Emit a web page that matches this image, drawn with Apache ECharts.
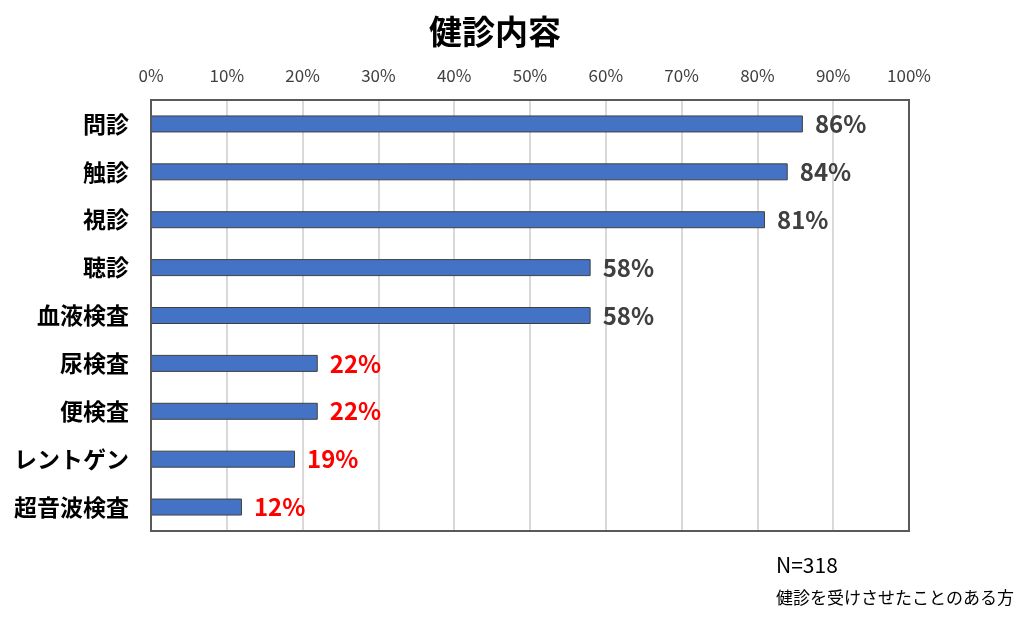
<!DOCTYPE html>
<html><head><meta charset="utf-8">
<script src="https://cdn.jsdelivr.net/npm/echarts@6/dist/echarts.min.js"></script>
<style>html,body{margin:0;padding:0;background:#fff}#c{width:1025px;height:631px}</style>
</head><body><div id="c"></div>
<script>
const categories = ['問診','触診','視診','聴診','血液検査','尿検査','便検査','レントゲン','超音波検査'];
const values = [86,84,81,58,58,22,22,19,12];
const highlightRed = [false,false,false,false,false,true,true,true,true];
const title = '健診内容';
const notes = ['N=318','健診を受けさせたことのある方'];
const font = '"Noto Sans CJK JP","Noto Sans",sans-serif';

const G = {left:151, top:100, width:758, height:431};
const chart = echarts.init(document.getElementById('c'));
chart.setOption({
  animation:false,
  title:{text:title,left:424,top:10,textStyle:{fontFamily:font,fontSize:33,fontWeight:'bold',color:'#000'}},
  grid:{left:G.left,top:G.top,width:G.width,height:G.height},
  xAxis:{type:'value',position:'top',min:0,max:100,interval:10,
    axisLabel:{formatter:'{value}%',fontFamily:font,fontSize:17,color:'#404040',margin:16},
    axisLine:{show:false},axisTick:{show:false},
    splitLine:{lineStyle:{color:'#d9d9d9',width:2}}},
  yAxis:{type:'category',data:categories,inverse:true,
    axisLabel:{fontFamily:font,fontSize:23,fontWeight:'bold',color:'#000',margin:22},
    axisLine:{show:false},axisTick:{show:false}},
  series:[{type:'bar',barWidth:17,
    data:values.map((v,i)=>({value:v,label:{color:highlightRed[i]?'#ff0000':'#404040'}})),
    itemStyle:{color:'#4472c4',borderColor:'#404040',borderWidth:1},
    label:{show:true,position:'right',distance:12,formatter:'{c}%',fontFamily:font,fontSize:24,fontWeight:'bold'}}],
  graphic:[
    {type:'rect',z:100,shape:{x:G.left,y:G.top,width:G.width,height:G.height},style:{fill:null,stroke:'#595959',lineWidth:2}},
    {type:'text',left:776,top:555,style:{text:notes[0],font:'21px '+font,fill:'#000'}},
    {type:'text',left:776,top:589,style:{text:notes[1],font:'17px '+font,fill:'#000'}}
  ]
});
</script></body></html>
